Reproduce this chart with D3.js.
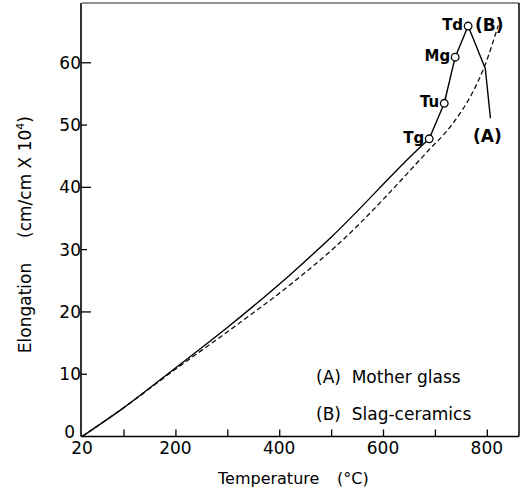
<!DOCTYPE HTML>
<html>
	<head>
		<title>Elongation</title>
		<script src="https://d3js.org/d3.v7.min.js"></script>
		<style>
			body { margin: 0; background: #fff; }
			svg { display: block; font-family: "DejaVu Sans", sans-serif; }
		</style>
	</head>
	<body>
		<svg id="viz" width="522" height="501"></svg>
		<script>
			// curve (A) mother glass, solid
			const tempA = [20, 100, 200, 300, 420, 500, 676, 689, 718, 739, 764, 797, 807]
			const elongA = [0, 4.6, 11.0, 17.5, 25.9, 32.0, 46.8, 47.8, 53.5, 60.9, 65.9, 59.1, 51.1]
			// curve (B) slag-ceramics, dashed
			const tempB = [20, 100, 200, 310, 420, 510, 685, 734, 773, 795, 822]
			const elongB = [0, 4.6, 10.8, 17.4, 24.3, 30.6, 45.7, 50.2, 55.3, 59.3, 66.0]
			// transformation points on (A)
			const markerNames = ["Tg", "Tu", "Mg", "Td"]
			const markerTemp = [689, 718, 739, 764]
			const markerElong = [47.8, 53.5, 60.9, 65.9]

			const xTickLabels = [20, 200, 400, 600, 800]
			const xMinorTicks = [100, 200, 300, 400, 500, 600, 700, 800]
			const yTickLabels = [0, 10, 20, 30, 40, 50, 60]
			const legendLines = ["(A)  Mother glass", "(B)  Slag-ceramics"]

			const svg = d3.select("#viz")
			const plotLeft = 82, plotRight = 519, plotTop = 3, plotBottom = 436.5

			const x = d3.scaleLinear().domain([20, 862]).range([plotLeft, plotRight])
			const y = d3.scaleLinear().domain([0, 69.6]).range([plotBottom, plotTop])

			// frame
			svg.append("line").attr("x1", plotLeft).attr("x2", plotRight).attr("y1", plotTop).attr("y2", plotTop)
				.attr("stroke", "#222").attr("stroke-width", 1)
			svg.append("line").attr("x1", plotRight).attr("x2", plotRight).attr("y1", plotTop).attr("y2", plotBottom)
				.attr("stroke", "#111").attr("stroke-width", 1.6)

			// x axis, ticks point inward
			const xAxis = d3.axisBottom(x).tickValues(xMinorTicks).tickSize(-7).tickFormat("")
			const gx = svg.append("g").attr("transform", `translate(0,${plotBottom})`).call(xAxis)
			gx.select(".domain").attr("d", `M${plotLeft - 1},0H${plotRight}`).attr("stroke-width", 1.6)
			gx.selectAll(".tick line").attr("stroke-width", 1.3)
			svg.selectAll(".xlab").data(xTickLabels).enter().append("text")
				.attr("x", d => x(d)).attr("y", plotBottom + 17)
				.attr("text-anchor", "middle").attr("font-size", 17).text(d => d)

			// y axis, long ticks at 20s, short at 10s
			const gy = svg.append("g").attr("transform", `translate(${plotLeft - 1},0)`)
			gy.append("line").attr("x1", 0).attr("x2", 0).attr("y1", plotTop).attr("y2", plotBottom)
				.attr("stroke", "#000").attr("stroke-width", 1.6)
			gy.selectAll(".ytick").data(yTickLabels.filter(d => d > 0)).enter().append("line")
				.attr("x1", 0).attr("x2", d => d % 20 == 0 ? 10 : 6)
				.attr("y1", d => y(d)).attr("y2", d => y(d))
				.attr("stroke", "#000").attr("stroke-width", 1.3)
			svg.selectAll(".ylab").data(yTickLabels).enter().append("text")
				.attr("x", d => d == 0 ? plotLeft - 7 : plotLeft - 1)
				.attr("y", d => d == 0 ? y(d) - 5 : y(d))
				.attr("dy", "0.36em")
				.attr("text-anchor", "end").attr("font-size", 17).text(d => d)

			// axis titles
			svg.append("text").attr("x", 218).attr("y", 484).attr("font-size", 16).text("Temperature")
			svg.append("text").attr("x", 337).attr("y", 484).attr("font-size", 16).text("(°C)")
			const yt = svg.append("g").attr("transform", "translate(31,0) rotate(-90)")
			yt.append("text").attr("x", -308).attr("y", 0).attr("text-anchor", "middle")
				.attr("font-size", 17).text("Elongation")
			const unit = yt.append("text").attr("x", -177).attr("y", 0).attr("text-anchor", "middle")
				.attr("font-size", 17)
			unit.append("tspan").text("(cm/cm X 10")
			unit.append("tspan").attr("dy", -7).attr("font-size", 11).text("4")
			unit.append("tspan").attr("dy", 7).text(")")

			// curves: (A) smooth up to Tg, then straight pieces through the markers
			const iTg = tempA.indexOf(markerTemp[0])
			const ptsA = tempA.map((t, i) => [x(t), y(elongA[i])])
			const ptsB = tempB.map((t, i) => [x(t), y(elongB[i])])
			svg.append("path").attr("d", d3.line().curve(d3.curveMonotoneX)(ptsB))
				.attr("fill", "none").attr("stroke", "#111").attr("stroke-width", 1.3)
				.attr("stroke-dasharray", "5,3")
			svg.append("path").attr("d", d3.line().curve(d3.curveMonotoneX)(ptsA.slice(0, iTg + 1)))
				.attr("fill", "none").attr("stroke", "#000").attr("stroke-width", 1.4)
			svg.append("path").attr("d", d3.line()(ptsA.slice(iTg)))
				.attr("fill", "none").attr("stroke", "#000").attr("stroke-width", 1.4)
				.attr("stroke-linejoin", "round")

			// markers and their labels
			svg.selectAll(".mk").data(markerNames).enter().append("circle")
				.attr("cx", (d, i) => x(markerTemp[i])).attr("cy", (d, i) => y(markerElong[i]))
				.attr("r", 3.8).attr("fill", "#fff").attr("stroke", "#000").attr("stroke-width", 1.3)
			svg.selectAll(".mklab").data(markerNames).enter().append("text")
				.attr("x", (d, i) => x(markerTemp[i]) - 5).attr("y", (d, i) => y(markerElong[i]) + 4)
				.attr("text-anchor", "end").attr("font-size", 15).attr("font-weight", "bold").text(d => d)

			// curve end labels
			const nA = tempA.length - 1, nB = tempB.length - 1
			svg.append("text").attr("x", x(tempA[nA]) - 3).attr("y", y(elongA[nA]) + 24)
				.attr("text-anchor", "middle").attr("font-size", 17).attr("font-weight", "bold").text("(A)")
			svg.append("text").attr("x", x(tempB[nB]) - 9).attr("y", y(elongB[nB]) + 6)
				.attr("text-anchor", "middle").attr("font-size", 17).attr("font-weight", "bold").text("(B)")

			// legend
			svg.selectAll(".leg").data(legendLines).enter().append("text")
				.attr("x", 316).attr("y", (d, i) => 383 + i * 37)
				.attr("font-size", 17).attr("xml:space", "preserve")
				.style("white-space", "pre").text(d => d)
		</script>
	</body>
</html>
